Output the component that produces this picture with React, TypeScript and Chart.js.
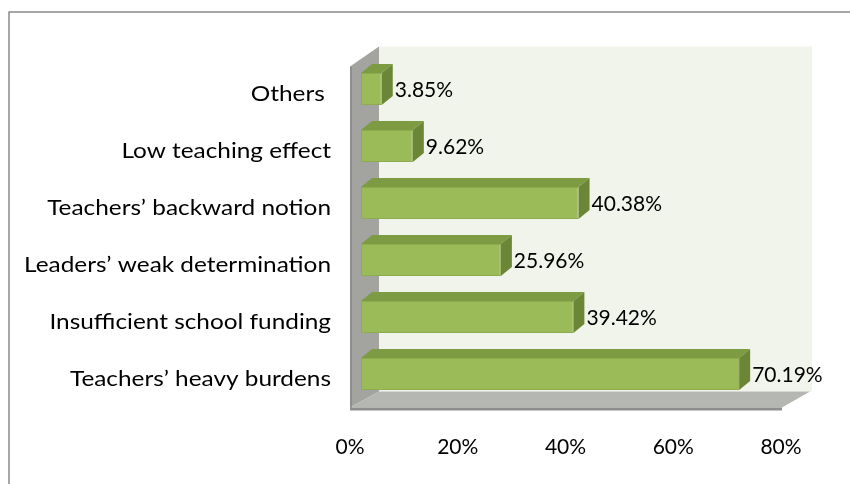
import React, { useEffect, useRef } from "react";
import { Chart, registerables } from "chart.js";

Chart.register(...registerables);

const categories = [
  "Others ",
  "Low teaching effect",
  "Teachers’ backward notion",
  "Leaders’ weak determination",
  "Insufficient school funding",
  "Teachers’ heavy burdens",
];
const values = [3.85, 9.62, 40.38, 25.96, 39.42, 70.19];
const xTickValues = [0, 20, 40, 60, 80];
const xMin = 0;
const xMax = 80;

const FONT = "Lato, 'Open Sans', sans-serif";
const FS = 21;

const frame3d = {
  id: "frame3d",
  beforeDraw(chart: any) {
    const { ctx, width, height } = chart;
    ctx.save();
    ctx.fillStyle = "#ffffff";
    ctx.fillRect(0, 0, width, height);
    ctx.strokeStyle = "#898989";
    ctx.lineWidth = 1.5;
    ctx.beginPath();
    ctx.moveTo(9, height + 5);
    ctx.lineTo(9, 12);
    ctx.lineTo(width + 5, 12);
    ctx.stroke();
    ctx.restore();
  },
  beforeDatasetsDraw(chart: any) {
    const { ctx } = chart;
    const { left: L, right: R, top: T, bottom: B } = chart.chartArea;
    ctx.save();
    // back wall
    ctx.fillStyle = "#F1F4EA";
    ctx.fillRect(L + 18, T - 14, R - L + 2, B - T + 3);
    // side wall
    ctx.fillStyle = "#A3A4A0";
    ctx.beginPath();
    ctx.moveTo(L - 11, T + 6);
    ctx.lineTo(L + 18, T - 14);
    ctx.lineTo(L + 18, B - 11);
    ctx.lineTo(L - 11, B + 5);
    ctx.closePath();
    ctx.fill();
    ctx.fillStyle = "#8E8F8C";
    ctx.fillRect(L - 11, T + 6, 2, B - T);
    // floor
    ctx.fillStyle = "#B5B7B2";
    ctx.beginPath();
    ctx.moveTo(L - 11, B + 5);
    ctx.lineTo(R - 10, B + 5);
    ctx.lineTo(R + 18, B - 11);
    ctx.lineTo(L + 18, B - 11);
    ctx.closePath();
    ctx.fill();
    ctx.fillStyle = "#8E8F8C";
    ctx.fillRect(L - 11, B + 5, R - L + 1, 3);
    ctx.restore();
  },
  afterDatasetsDraw(chart: any) {
    const { ctx } = chart;
    const meta = chart.getDatasetMeta(0);
    const yScale = chart.scales.y;
    const dx = 11;
    const dy = -9;
    ctx.save();
    meta.data.forEach((bar: any, i: number) => {
      const { x, y, base, height } = bar.getProps(["x", "y", "base", "height"], true);
      const x0 = base;
      const x1 = x;
      const y0 = y - height / 2;
      const y1 = y + height / 2;
      // top face
      ctx.fillStyle = "#7C9B43";
      ctx.beginPath();
      ctx.moveTo(x0, y0);
      ctx.lineTo(x1, y0);
      ctx.lineTo(x1 + dx, y0 + dy);
      ctx.lineTo(x0 + dx, y0 + dy);
      ctx.closePath();
      ctx.fill();
      // side face
      ctx.fillStyle = "#6B8636";
      ctx.beginPath();
      ctx.moveTo(x1, y0);
      ctx.lineTo(x1 + dx, y0 + dy);
      ctx.lineTo(x1 + dx, y1 + dy);
      ctx.lineTo(x1, y1);
      ctx.closePath();
      ctx.fill();
      // value label
      ctx.fillStyle = "#000000";
      ctx.font = `${FS}px ${FONT}`;
      ctx.textAlign = "left";
      ctx.textBaseline = "alphabetic";
      ctx.fillText(values[i].toFixed(2) + "%", x1 + dx + 2, y + 7.5);
    });
    // category labels (slightly wide lettering, as in the original)
    categories.forEach((label, i) => {
      const py = yScale.getPixelForValue(i);
      ctx.save();
      ctx.translate(yScale.right - 30, py + 11.5);
      ctx.scale(1.16, 1);
      ctx.fillStyle = "#000000";
      ctx.font = `${FS}px ${FONT}`;
      ctx.textAlign = "right";
      ctx.textBaseline = "alphabetic";
      ctx.fillText(label, 0, 0);
      ctx.restore();
    });
    ctx.restore();
  },
};

export default function App() {
  const canvasRef = useRef<HTMLCanvasElement | null>(null);

  useEffect(() => {
    const canvas = canvasRef.current;
    if (!canvas) return;
    const chart = new Chart(canvas, {
      type: "bar",
      data: {
        labels: categories,
        datasets: [
          {
            data: values,
            backgroundColor: "#9BBB59",
            borderColor: "#8DAC4E",
            borderWidth: 1,
            borderSkipped: false,
            barPercentage: 32 / 57,
            categoryPercentage: 1,
          },
        ],
      },
      options: {
        indexAxis: "y",
        responsive: false,
        animation: false,
        devicePixelRatio: 1,
        layout: { padding: { top: 60.5, right: 58, left: 0, bottom: 0 } },
        plugins: {
          legend: { display: false },
          tooltip: { enabled: false },
        },
        scales: {
          x: {
            min: xMin,
            max: xMax,
            grid: { display: false, drawTicks: false },
            border: { display: false },
            afterBuildTicks: (scale: any) => {
              scale.ticks = xTickValues.map((v) => ({ value: v }));
            },
            afterFit: (scale: any) => {
              scale.height = 81.5;
            },
            ticks: {
              color: "#000000",
              font: { family: FONT, size: FS },
              padding: 32,
              labelOffset: -11,
              maxRotation: 0,
              callback: (v: any) => `${v}%`,
            },
          },
          y: {
            grid: { display: false, drawTicks: false },
            border: { display: false },
            afterFit: (scale: any) => {
              scale.width = 361;
            },
            ticks: { display: false },
          },
        },
      },
      plugins: [frame3d],
    });
    return () => chart.destroy();
  }, []);

  return (
    <div style={{ position: "absolute", left: 0, top: 0, width: 850, height: 484, background: "#fff" }}>
      <canvas ref={canvasRef} width={850} height={484} style={{ display: "block" }} />
    </div>
  );
}
